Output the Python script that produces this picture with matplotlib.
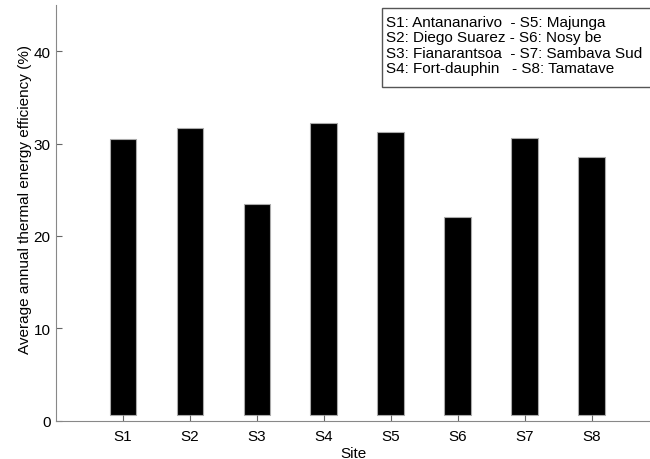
import matplotlib
matplotlib.use("Agg")
import matplotlib.pyplot as plt
from matplotlib.patches import Rectangle

sites = ["S1", "S2", "S3", "S4", "S5", "S6", "S7", "S8"]
efficiency = [30.5, 31.7, 23.5, 32.2, 31.2, 22.0, 30.6, 28.5]
legend_lines = [
    "S1: Antananarivo  - S5: Majunga",
    "S2: Diego Suarez - S6: Nosy be",
    "S3: Fianarantsoa  - S7: Sambava Sud",
    "S4: Fort-dauphin   - S8: Tamatave",
]
yticks = [0, 10, 20, 30, 40]

plt.rcParams['font.family'] = ['Liberation Sans', 'DejaVu Sans']

fig = plt.figure(figsize=(6.5, 4.6), dpi=100)
ax = fig.add_axes([56/650, 1 - 421.7/460, 1 - 56/650, (421.7 - 6)/460])

base = 0.6
x = list(range(1, len(sites) + 1))
ax.bar(x, [v - base for v in efficiency], bottom=base, width=0.4,
       color='black', edgecolor='#aaaaaa', linewidth=0.8)

ax.set_xlim(0, 8.87)
ax.set_ylim(0, 45)
ax.set_xticks(x)
ax.set_xticklabels(sites)
ax.set_yticks(yticks)
ax.tick_params(direction='in', length=4.5, width=0.8, color='#666666',
               labelsize=11, pad=4)
ax.tick_params(axis='x', pad=6)

ax.spines['right'].set_color('none')
ax.spines['top'].set_color('none')
ax.spines['left'].set_color('#888888')
ax.spines['bottom'].set_color('#888888')

ax.set_xlabel("Site", fontsize=11, labelpad=2)
ax.set_ylabel("Average annual thermal energy efficiency (%)", fontsize=11)
ax.yaxis.set_label_coords(-0.040, 0.534)

# legend-like box with site names
fig.patches.append(Rectangle((381.7/650, 1 - 88/460), 0.5, (88 - 9)/460,
                             transform=fig.transFigure, facecolor='white',
                             edgecolor='#555555', linewidth=1.0, zorder=5))
fig.text(386/650, 1 - 15.5/460, "\n".join(legend_lines), fontsize=11,
         va='top', ha='left', linespacing=1.15, zorder=6)

fig.savefig("out.png", dpi=100)
